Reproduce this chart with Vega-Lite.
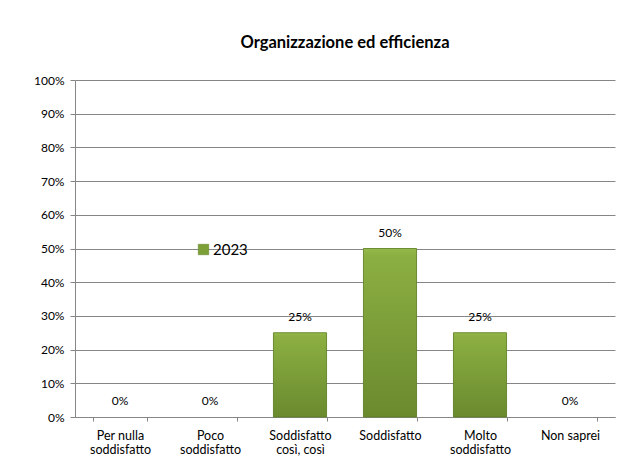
{
  "$schema": "https://vega.github.io/schema/vega-lite/v6.json",
  "width": 540,
  "height": 337,
  "autosize": {"type": "none"},
  "padding": {"left": 75, "top": 80, "right": 23, "bottom": 53},
  "background": "white",
  "title": {
    "text": "Organizzazione ed efficienza",
    "font": "Lato",
    "fontSize": 16.5,
    "fontWeight": "bold",
    "color": "#000000",
    "anchor": "middle",
    "offset": 23
  },
  "data": {
    "values": [
      {"cat": "Per nulla|soddisfatto", "val": 0, "year": "2023"},
      {"cat": "Poco|soddisfatto", "val": 0, "year": "2023"},
      {"cat": "Soddisfatto|così, così", "val": 0.25, "year": "2023"},
      {"cat": "Soddisfatto", "val": 0.5, "year": "2023"},
      {"cat": "Molto|soddisfatto", "val": 0.25, "year": "2023"},
      {"cat": "Non saprei", "val": 0, "year": "2023"}
    ]
  },
  "encoding": {
    "x": {
      "field": "cat",
      "type": "nominal",
      "sort": null,
      "scale": {
        "domain": ["Per nulla|soddisfatto", "Poco|soddisfatto", "Soddisfatto|così, così", "Soddisfatto", "Molto|soddisfatto", "Non saprei"],
        "paddingInner": 0.41,
        "paddingOuter": 0.205
      },
      "axis": {
        "title": null,
        "labelAngle": 0,
        "labelExpr": "split(datum.label, '|')",
        "labelFont": "Lato",
        "labelFontSize": 12.5,
        "labelColor": "#000000",
        "labelLineHeight": 14,
        "labelPadding": 8,
        "tickBand": "extent",
        "tickSize": 4,
        "tickColor": "#868686",
        "domainColor": "#868686",
        "grid": false
      }
    },
    "y": {
      "field": "val",
      "type": "quantitative",
      "scale": {"domain": [0, 1], "nice": false},
      "axis": {
        "title": null,
        "format": ".0%",
        "values": [0, 0.1, 0.2, 0.3, 0.4, 0.5, 0.6, 0.7, 0.8, 0.9, 1],
        "labelFont": "Lato",
        "labelFontSize": 12,
        "labelColor": "#000000",
        "labelPadding": 6,
        "tickSize": 5,
        "tickColor": "#868686",
        "domainColor": "#868686",
        "gridColor": "#868686",
        "gridWidth": 1
      }
    }
  },
  "layer": [
    {
      "transform": [{"filter": "datum.val > 0"}],
      "mark": {"type": "bar", "opacity": 1},
      "encoding": {
        "color": {
          "field": "year",
          "type": "nominal",
          "scale": {"range": ["#7d9f38"]},
          "legend": {
            "title": null,
            "orient": "none",
            "legendX": 121,
            "legendY": 162,
            "symbolType": "square",
            "symbolSize": 110,
            "symbolStrokeColor": "#5f7f26",
            "symbolStrokeWidth": 0.5,
            "labelFont": "Lato",
            "labelFontSize": 15,
            "labelColor": "#000000",
            "labelOffset": 2
          }
        }
      }
    },
    {
      "transform": [{"filter": "datum.val > 0"}],
      "mark": {
        "type": "bar",
        "stroke": "#5f7f26",
        "strokeWidth": 0.8,
        "fill": {
          "gradient": "linear",
          "x1": 0, "y1": 0, "x2": 0, "y2": 1,
          "stops": [
            {"offset": 0, "color": "#96ba4c"},
            {"offset": 0.04, "color": "#8caf42"},
            {"offset": 1, "color": "#6a8a2e"}
          ]
        }
      },
      "encoding": {}
    },
    {
      "mark": {
        "type": "text",
        "baseline": "middle",
        "dy": -16,
        "font": "Lato",
        "fontSize": 12,
        "color": "#000000"
      },
      "encoding": {
        "text": {"field": "val", "type": "quantitative", "format": ".0%"}
      }
    }
  ],
  "config": {
    "view": {"stroke": null}
  }
}
